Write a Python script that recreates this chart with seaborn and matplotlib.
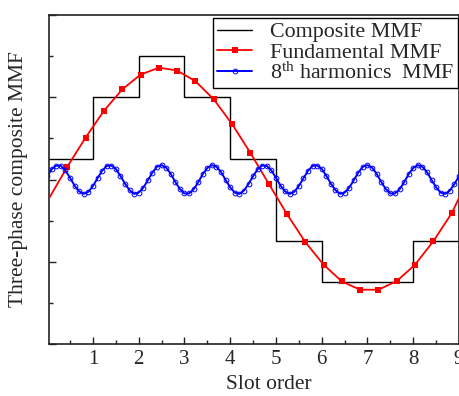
import matplotlib
matplotlib.use("Agg")
import matplotlib.pyplot as plt
import seaborn as sns
from matplotlib.lines import Line2D
from matplotlib.ticker import MultipleLocator

# Composite MMF: one level per slot between slot edges 0..9
slot_edges = [0, 1, 2, 3, 4, 5, 6, 7, 8, 9]
composite_levels = [0.5, 2.0, 3.0, 2.0, 0.5, -1.5, -2.5, -2.5, -1.5]

# Fundamental MMF (first and last points are the curve ends, no marker)
fund_x = [0.04, 0.44, 0.84, 1.24, 1.64, 2.04, 2.44, 2.84, 3.24, 3.64, 4.04, 4.44,
          4.84, 5.24, 5.64, 6.04, 6.44, 6.84, 7.24, 7.64, 8.04, 8.44, 8.84, 9.0]
fund_y = [-0.46, 0.31, 1.02, 1.67, 2.19, 2.55, 2.72, 2.65, 2.39, 1.95, 1.35, 0.65,
          -0.10, -0.84, -1.52, -2.07, -2.48, -2.68, -2.68, -2.47, -2.07, -1.50, -0.82, -0.45]

# 8th harmonic MMF sampled every 0.1 slot
harm_x = [round(0.1 * i, 1) for i in range(91)]
harm_y = [0.08, 0.25, 0.34, 0.33, 0.22, 0.04, -0.15, -0.29, -0.35, -0.30,
          -0.16, 0.03, 0.21, 0.33, 0.34, 0.26, 0.09, -0.10, -0.26, -0.35,
          -0.32, -0.20, -0.02, 0.17, 0.31, 0.35, 0.29, 0.14, -0.06, -0.23,
          -0.34, -0.34, -0.24, -0.07, 0.13, 0.28, 0.35, 0.31, 0.18, -0.01,
          -0.19, -0.32, -0.35, -0.27, -0.11,
          0.08, 0.25, 0.34, 0.33, 0.22, 0.04, -0.15, -0.29, -0.35, -0.30,
          -0.16, 0.03, 0.21, 0.33, 0.34, 0.26, 0.09, -0.10, -0.26, -0.35,
          -0.32, -0.20, -0.02, 0.17, 0.31, 0.35, 0.29, 0.14, -0.06, -0.23,
          -0.34, -0.34, -0.24, -0.07, 0.13, 0.28, 0.35, 0.31, 0.18, -0.01,
          -0.19, -0.32, -0.35, -0.27, -0.11,
          0.08]

x_ticks = [1, 2, 3, 4, 5, 6, 7, 8, 9]
legend_labels = ["Composite MMF", "Fundamental MMF", r"8$^{\mathrm{th}}$ harmonics  MMF"]

sns.set_style("ticks")
plt.rcParams["font.family"] = ["Liberation Serif", "DejaVu Serif"]
plt.rcParams["mathtext.fontset"] = "custom"
plt.rcParams["mathtext.rm"] = "Liberation Serif"
plt.rcParams["mathtext.it"] = "Liberation Serif:italic"

fig = plt.figure(figsize=(4.6, 3.96), dpi=100)
ax = fig.add_axes([49 / 460, 1 - 344 / 396, 410 / 460, 329 / 396])

sns.lineplot(x=slot_edges, y=composite_levels + [composite_levels[-1]],
             drawstyle="steps-post", color="black", linewidth=1.0,
             estimator=None, sort=False, ax=ax, zorder=2)
sns.lineplot(x=fund_x, y=fund_y, color="#ff0000", linewidth=1.3,
             marker="s", markersize=4.6, markeredgewidth=0,
             markevery=list(range(1, len(fund_x) - 1)),
             estimator=None, sort=False, ax=ax, zorder=3)
sns.lineplot(x=harm_x, y=harm_y, color="#0000ff", linewidth=1.4,
             marker="o", markersize=3.4, markerfacecolor="none",
             markeredgecolor="#0000ff", markeredgewidth=0.7,
             estimator=None, sort=False, ax=ax, zorder=4)

ax.set_xlim(0.04, 9)
ax.set_ylim(-4, 4)
ax.set_xticks(x_ticks)
ax.set_xticklabels([str(t) for t in x_ticks])
ax.xaxis.set_minor_locator(MultipleLocator(0.5))
ax.yaxis.set_major_locator(MultipleLocator(2))
ax.yaxis.set_minor_locator(MultipleLocator(1))
ax.set_yticklabels([])
ax.tick_params(which="both", direction="in", top=False, right=False,
               width=1.0, color="#222222")
ax.tick_params(which="major", length=5, labelsize=15, pad=4)
ax.tick_params(which="minor", length=3)
for sp in ax.spines.values():
    sp.set_linewidth(1.2)
    sp.set_color("#222222")

ax.set_xlabel("Slot order", fontsize=15.5)
ax.set_ylabel("Three-phase composite MMF", fontsize=15.5)
ax.xaxis.set_label_coords(0.537, -0.095)
ax.yaxis.set_label_coords(-0.051, 0.5)

handles = [
    Line2D([], [], color="black", linewidth=1.0),
    Line2D([], [], color="#ff0000", linewidth=1.3, marker="s", markersize=4.6,
           markeredgewidth=0),
    Line2D([], [], color="#0000ff", linewidth=1.4, marker="o", markersize=3.4,
           markerfacecolor="none", markeredgecolor="#0000ff", markeredgewidth=0.7),
]
leg = ax.legend(handles, legend_labels, loc="upper right",
                bbox_to_anchor=(0.9976, 0.991), borderaxespad=0,
                fontsize=15.8, frameon=True, fancybox=False, framealpha=1,
                edgecolor="black", handlelength=1.6, handletextpad=0.8,
                labelspacing=0.0, borderpad=0.18)
leg.get_frame().set_linewidth(1.0)

fig.savefig("out.png", dpi=100)
